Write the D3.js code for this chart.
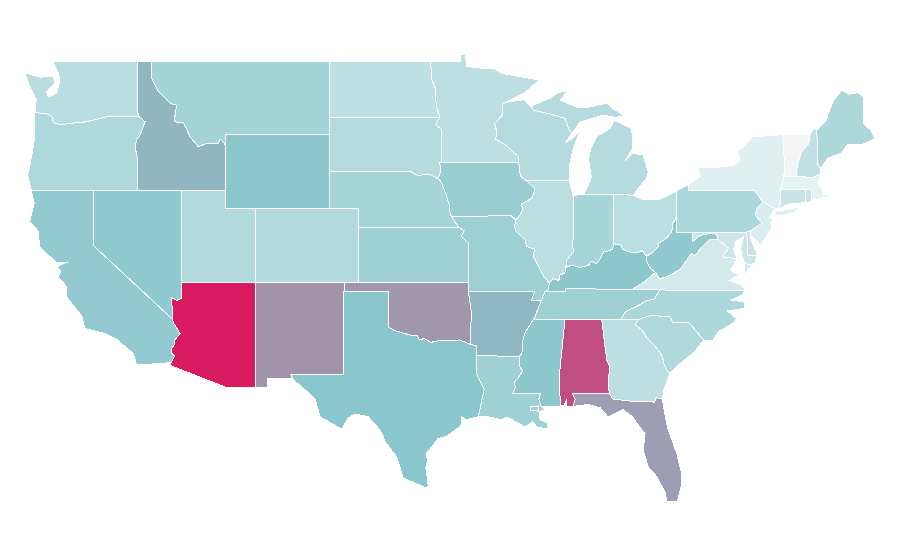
<!DOCTYPE html>
<html>
<head>
<meta charset="utf-8">
<script src="https://cdn.jsdelivr.net/npm/d3@7"></script>
<style>
html, body { margin: 0; padding: 0; background: #fff; }
svg { display: block; }
</style>
</head>
<body>
<svg></svg>
<script>
// SHARED BORDERS (lon, lat)
var redRiver = [[-97.23,49],[-97.13,48.5],[-97.1,48],[-96.85,47.5],[-96.83,47],[-96.8,46.6],[-96.56,45.94]];
var sdMn = [[-96.56,45.94],[-96.85,45.55],[-96.45,45.3],[-96.45,43.5]];
var sdIa = [[-96.45,43.5],[-96.6,43.5],[-96.48,43.2],[-96.55,42.9],[-96.7,42.62],[-96.5,42.5]];
var sdNe = [[-104.05,43],[-98.5,43],[-98,42.77],[-97.6,42.85],[-97.3,42.87],[-96.9,42.72],[-96.5,42.5]];
var neIa = [[-96.5,42.5],[-96.25,42],[-96.1,41.7],[-95.92,41.2],[-95.85,40.7],[-95.77,40.58]];
var neMo = [[-95.77,40.58],[-95.3,40]];
var ksMo = [[-95.3,40],[-94.9,39.8],[-95.1,39.5],[-94.62,39.1],[-94.62,37]];
var mnWi = [[-92.1,46.75],[-92.29,46.66],[-92.29,46.1],[-92.85,45.6],[-92.7,45.2],[-92.78,44.75],[-92,44.4],[-91.6,44.05],[-91.25,43.85],[-91.22,43.5]];
var iaWi = [[-91.22,43.5],[-91.15,43],[-91.05,42.7],[-90.65,42.5]];
var iaIl = [[-90.65,42.5],[-90.15,42.1],[-90.2,41.8],[-90.35,41.55],[-91.05,41.25],[-90.95,40.95],[-91.1,40.7],[-91.42,40.38]];
var moIl = [[-91.42,40.38],[-91.5,40],[-91.4,39.8],[-90.75,39.25],[-90.7,38.95],[-90.15,38.8],[-90.25,38.4],[-89.9,37.9],[-89.5,37.3],[-89.15,36.98]];
var moKy = [[-89.15,36.98],[-89.2,36.6],[-89.42,36.5]];
var moTn = [[-89.42,36.5],[-89.55,36.3],[-89.7,36]];
var arTn = [[-89.7,36],[-89.9,35.6],[-90.1,35.15],[-90.25,34.97]];
var arMs = [[-90.25,34.97],[-90.8,34.25],[-90.95,33.8],[-91,33.15],[-91.17,33]];
var laMs = [[-91.17,33],[-91.13,32.4],[-90.95,32.25],[-91.1,32],[-91.5,31.6],[-91.45,31.3],[-91.6,31],[-89.75,31],[-89.85,30.65],[-89.7,30.3]];
var ohWv = [[-80.52,40.64],[-80.63,40.4],[-80.8,40.2],[-80.86,39.75],[-81.2,39.4],[-81.8,39.1],[-81.75,38.95],[-82.2,38.6],[-82.4,38.5],[-82.59,38.42]];
var ohKy = [[-82.59,38.42],[-82.85,38.72],[-83.2,38.6],[-83.65,38.63],[-84.2,38.8],[-84.3,39.02],[-84.82,39.1]];
var inKy = [[-84.82,39.1],[-84.85,38.8],[-85.2,38.7],[-85.45,38.7],[-85.7,38.3],[-85.95,38],[-86.3,38.15],[-86.5,37.93],[-87.1,37.8],[-87.6,37.95],[-88.03,37.8]];
var ilKy = [[-88.03,37.8],[-88.1,37.5],[-88.45,37.4],[-88.5,37.1],[-88.9,37.2],[-89.15,36.98]];
var wabash = [[-87.53,39.35],[-87.6,39.1],[-87.5,38.7],[-87.95,38.2],[-88.03,37.8]];
var redTxOk = [[-100,34.56],[-99.6,34.38],[-99.2,34.3],[-98.6,34.15],[-98.1,34.13],[-97.95,33.9],[-97.6,33.95],[-97.15,33.75],[-96.6,33.85],[-95.8,33.85],[-95.2,33.88],[-94.48,33.64]];
var sabine = [[-94.04,32],[-93.55,31.2],[-93.75,30.5],[-93.85,30.1],[-93.95,29.72]];
var colorado = [[-114.63,35],[-114.57,34.8],[-114.13,34.24],[-114.47,33.88],[-114.53,33.6],[-114.72,33.4],[-114.7,33.17],[-114.5,33],[-114.74,32.65]];
var idMt = [[-116.05,49],[-116.05,48.06],[-115.6,47.34],[-114.8,46.7],[-114.36,46.6],[-114.54,45.7],[-113.9,45.66],[-113.46,44.9],[-112.9,44.35],[-112.3,44.55],[-111.54,44.54],[-111.43,44.77],[-111.05,44.45]];
var orWa = [[-116.92,46],[-118.98,46],[-119.3,45.93],[-120.5,45.7],[-121.2,45.65],[-122.2,45.55],[-122.7,45.65],[-122.8,46],[-123.2,46.15],[-123.95,46.2]];
var orId = [[-117.03,42],[-117.03,43.8],[-117.18,44.35],[-117.05,44.75],[-116.85,44.95],[-116.5,45.71],[-116.92,46]];
var miWi = [[-90.4,46.55],[-90.24,46.34],[-89.1,46.13],[-88.09,45.89],[-87.8,45.26],[-87.6,45.1]];
var savannah = [[-83.1,35],[-83.35,34.7],[-82.9,34.45],[-82.55,34],[-81.95,33.5],[-81.5,33],[-81.4,32.6],[-81.1,32.1],[-80.97,32.1]];
var gaAl = [[-85.6,34.98],[-85.38,33.5],[-85.26,32.8],[-85.04,32.4],[-85.15,31.8],[-85.1,31]];
var ncTn = [[-81.68,36.59],[-82.05,36.1],[-82.6,36],[-83.1,35.75],[-84,35.4],[-84.32,34.99]];
var ncSc = [[-83.1,35],[-82.3,35.2],[-81.05,35.15],[-80.93,35.1],[-80.8,34.82],[-79.68,34.8],[-78.7,33.87]];
var kyVa = [[-81.97,37.54],[-82.7,37.05],[-83.5,36.63],[-83.67,36.6]];
var kyWv = [[-82.59,38.42],[-82.6,38.2],[-82.3,37.75],[-81.97,37.54]];
var vaWv = [[-77.72,39.32],[-78.35,39.3],[-78.9,38.85],[-79.3,38.45],[-79.55,38.55],[-80.3,37.7],[-81.2,37.3],[-81.68,37.2],[-81.97,37.54]];
var mdWv = [[-79.48,39.72],[-79.48,39.2],[-79.05,39.47],[-78.75,39.6],[-78.4,39.63],[-78.2,39.68],[-77.85,39.6],[-77.72,39.32]];
var potomac = [[-77.72,39.32],[-77,38.85],[-77.35,38.5],[-77.35,38.35],[-76.45,38.3]];
var delaware = [[-74.7,41.36],[-75.13,40.98],[-75.2,40.65],[-74.77,40.2],[-75.45,39.84]];
var nyPa = [[-79.76,42.27],[-79.76,42],[-75.35,42],[-75.05,41.75],[-74.7,41.36]];
var vtNh = [[-71.5,45],[-71.6,44.5],[-72.05,44.1],[-72.35,43.4],[-72.46,42.73]];

// build a closed ring from border pieces
function rev(a) { return a.slice().reverse(); }
function ring() { var r = d3.merge(arguments); return r.concat([r[0]]); }

// STATE SHAPES AND VALUES
var stateNames = ["Washington","Oregon","California","Nevada","Idaho","Montana","Wyoming","Utah","Colorado","Arizona","New Mexico",
  "North Dakota","South Dakota","Nebraska","Kansas","Oklahoma","Texas","Minnesota","Iowa","Missouri","Arkansas","Louisiana",
  "Wisconsin","Illinois","Michigan","Indiana","Ohio","Kentucky","Tennessee","Mississippi","Alabama","Georgia","Florida",
  "South Carolina","North Carolina","Virginia","West Virginia","Maryland","Delaware","Pennsylvania","New Jersey","New York",
  "Connecticut","Rhode Island","Massachusetts","Vermont","New Hampshire","Maine"];

var stateValues = [28,33,46,47,55,38,49,31,31,100,65,
  25,30,37,40,64,50,26,43,41,54,40,
  30,27,30,36,27,49,40,48,85,26,62,
  32,34,16,47,19,21,34,12,10,
  21,21,7,0,24,34];

var stateRings = {
  "Washington": [ring([[-122.76,49],[-117.03,49],[-117.04,46.34],[-116.92,46]], orWa.slice(1),
    [[-123.87,46.9],[-124.3,47.6],[-124.62,48.35],[-123.6,48.13],[-122.7,48.15],[-122.6,47.8],[-123.15,47.34],[-123.05,47.05],[-122.47,47.25],[-122.25,47.97],[-122.37,48.35]])],
  "Oregon": [ring(orWa, [[-123.95,44.9],[-124.3,43.27],[-124.45,42.8],[-124.2,42]], orId)],
  "California": [ring([[-124.2,42],[-120,42],[-120,39]], colorado,
    [[-117.06,32.52],[-117.3,33.15],[-118.4,33.9],[-119.3,34.25],[-120.56,34.5],[-120.8,35.2],[-121.8,36.2],[-121.8,36.77],[-122.37,37.3],[-122.2,37.6],[-122.47,37.85],[-121.75,38.1],[-122.47,38.05],[-123.65,38.93],[-123.7,39.75],[-124.3,40.3],[-124,41.3]])],
  "Nevada": [ring([[-120,42],[-114.04,42],[-114.04,36.14],[-114.3,36.02],[-114.7,36.15],[-114.63,35],[-120,39]])],
  "Idaho": [ring([[-117.03,49]], idMt, [[-111.05,42]], orId, [[-117.04,46.34]])],
  "Montana": [ring(idMt, [[-111.05,45],[-104.05,45],[-104.05,49]])],
  "Wyoming": [ring([[-111.05,45],[-104.05,45],[-104.05,41],[-111.05,41]])],
  "Utah": [ring([[-114.04,42],[-111.05,42],[-111.05,41],[-109.05,41],[-109.05,37],[-114.04,37]])],
  "Colorado": [ring([[-109.05,41],[-102.05,41],[-102.05,37],[-109.05,37]])],
  "Arizona": [ring([[-114.04,37],[-109.05,37],[-109.05,31.33],[-111.07,31.33],[-114.8,32.5]], rev(colorado), [[-114.7,36.15],[-114.3,36.02],[-114.04,36.14]])],
  "New Mexico": [ring([[-109.05,37],[-103,37],[-103.04,36.5],[-103.06,32],[-106.62,32],[-106.53,31.78],[-108.21,31.78],[-108.21,31.33],[-109.05,31.33]])],
  "North Dakota": [ring([[-104.05,49]], redRiver, [[-104.05,45.94]])],
  "South Dakota": [ring([[-104.05,45.94]], sdMn, sdIa, rev(sdNe), [[-104.05,45]])],
  "Nebraska": [ring(sdNe, neIa, neMo, [[-102.05,40],[-102.05,41],[-104.05,41]])],
  "Kansas": [ring([[-102.05,40]], ksMo, [[-102.05,37]])],
  "Oklahoma": [ring([[-103,37],[-94.62,37],[-94.62,36.5],[-94.43,35.4]], rev(redTxOk), [[-100,36.5],[-103.04,36.5]])],
  "Texas": [ring([[-103.04,36.5],[-100,36.5]], redTxOk, [[-94.04,33.55]], sabine,
    [[-94.78,29.55],[-95.07,29.72],[-95.07,29.27],[-96.1,28.65],[-96.66,28.55],[-97.1,28.1],[-97.45,27.75],[-97.4,27.3],[-97.5,26.95],[-97.33,25.93],[-97.5,25.87],[-99.03,26.4],[-99.47,27.55],[-100.2,28.3],[-100.6,29],[-101.4,29.72],[-102.3,29.87],[-102.75,29.65],[-103.2,29.05],[-104.66,29.72],[-105,30.7],[-106.53,31.78],[-106.62,32],[-103.06,32]])],
  "Minnesota": [ring([[-97.23,49],[-95.15,49],[-95.15,49.35],[-94.82,49.32],[-94.74,48.7],[-93.6,48.6],[-92.95,48.62],[-92.36,48.33],[-91.1,48.15],[-89.8,47.97],[-90.8,47.3]], mnWi, [[-96.45,43.5]], rev(sdMn), rev(redRiver))],
  "Iowa": [ring(rev(neIa), rev(sdIa), [[-91.22,43.5]], iaWi, iaIl, [[-91.73,40.61]])],
  "Missouri": [ring([[-95.77,40.58],[-91.73,40.61]], moIl, moKy, moTn, [[-90.37,36],[-90.15,36.5],[-94.62,36.5]], rev(ksMo), rev(neMo))],
  "Arkansas": [ring([[-94.62,36.5],[-90.15,36.5],[-90.37,36]], arTn, arMs, [[-94.04,33.02],[-94.04,33.55],[-94.48,33.64],[-94.43,35.4]])],
  "Louisiana": [ring([[-94.04,33.02]], laMs, [[-89.44,30.1],[-89.77,30.02],[-90.45,30.05],[-90.45,30.25],[-89.9,30.3],[-89.77,29.55],[-89.3,29.38],[-89.2,29.05],[-90,29.16],[-90.25,29.45],[-90.8,29.16],[-91.3,29.4],[-92.03,29.7],[-92.37,29.55],[-93.3,29.72]], rev(sabine))],
  "Wisconsin": [ring(mnWi, iaWi, [[-87.8,42.5],[-87.8,43.3],[-87.5,44.3],[-87.05,45.25],[-87.5,44.85],[-88.08,44.55],[-87.6,45.1]], rev(miWi), [[-90.9,46.9]])],
  "Illinois": [ring([[-90.65,42.5],[-87.8,42.5],[-87.53,41.7]], wabash, ilKy, rev(moIl), rev(iaIl))],
  "Michigan": [
    ring([[-86.82,41.76],[-84.8,41.76],[-83.45,41.73],[-83.15,42.1],[-82.55,42.65],[-82.45,43],[-82.8,43.9],[-83.5,44],[-84,43.6],[-83.5,44.3],[-83.5,44.8],[-83.6,45.35],[-84.75,45.78],[-85.03,45.35],[-85.95,44.9],[-86.3,44.35],[-86.5,43.7],[-86.3,42.7],[-86.6,42.1]]),
    ring(miWi, [[-87.05,45.7],[-86.6,45.8],[-85.5,46.07],[-84.7,45.95],[-84,46],[-84.8,46.4],[-85.26,46.72],[-86.5,46.5],[-87.3,46.5],[-88.4,46.88],[-87.87,47.4],[-88.56,47.28],[-89.1,46.98]]),
    ring([[-89.2,47.9],[-88.5,48.15],[-88.9,47.95]])],
  "Indiana": [ring([[-87.53,41.7],[-87.2,41.75],[-86.82,41.76],[-84.8,41.76]], inKy, rev(wabash))],
  "Ohio": [ring([[-84.8,41.76],[-83.45,41.73],[-82.8,41.47],[-81.7,41.5],[-80.75,41.85],[-80.52,41.98]], ohWv, ohKy)],
  "Kentucky": [ring(rev(moKy), rev(ilKy), rev(inKy), rev(ohKy), kyWv, kyVa, [[-88.07,36.68],[-88.07,36.5]])],
  "Tennessee": [ring([[-89.42,36.5],[-88.07,36.5],[-88.07,36.68],[-83.67,36.6]], ncTn, [[-90.25,34.97]], rev(arTn), rev(moTn))],
  "Mississippi": [ring([[-90.25,34.97],[-88.2,35],[-88.1,34.9],[-88.47,31.9],[-88.4,30.3]], rev(laMs), rev(arMs))],
  "Alabama": [ring([[-88.2,35]], gaAl, [[-87.6,31],[-87.4,30.67],[-87.55,30.28],[-88,30.25],[-87.95,30.65],[-88.15,30.35],[-88.4,30.3],[-88.47,31.9],[-88.1,34.9]])],
  "Georgia": [ring(gaAl.slice(0,1), [[-84.32,34.99]], savannah, [[-81.4,31.17],[-81.5,30.7],[-81.9,30.75],[-82.05,30.5],[-82.2,30.55],[-83.23,30.53],[-84.86,30.68]], rev(gaAl))],
  "Florida": [ring([[-87.6,31],[-85.1,31],[-84.86,30.68],[-83.23,30.53],[-82.2,30.55],[-82.05,30.5],[-81.9,30.75],[-81.5,30.7],[-81.3,29.7],[-81.1,29],[-80.53,27.75],[-80.2,26.66],[-80.2,26],[-80.5,25.1],[-81.2,25.15],[-81.3,25.6],[-81.88,26.47],[-82.45,27],[-82.8,27.9],[-82.67,28.8],[-83.23,29.38],[-83.5,29.7],[-84.15,30.1],[-85.17,29.7],[-85.7,30.2],[-86.5,30.38],[-87.55,30.28],[-87.4,30.67]])],
  "South Carolina": [ring(ncSc, [[-79.4,33.17],[-80.3,32.6]], rev(savannah))],
  "North Carolina": [ring([[-81.68,36.59],[-75.9,36.55],[-76.1,36.3],[-76.9,36.05],[-76,35.95],[-75.9,35.6],[-77.1,35.45],[-76.5,35.05],[-76.7,34.8],[-77.7,34.33],[-78.07,33.87]], rev(ncSc), [[-84.32,34.99]], rev(ncTn))],
  "Virginia": [
    ring(rev(kyVa), rev(vaWv), potomac, [[-76.7,37.9],[-76.9,37.67],[-76.35,37.4],[-76.97,37.1],[-76.35,36.95],[-76,36.76],[-75.9,36.55],[-81.68,36.59]]),
    ring([[-76,37.2],[-75.7,37.75],[-75.25,38.03],[-75.65,37.95],[-75.9,38.03]])],
  "West Virginia": [ring(ohWv, kyWv, rev(vaWv), rev(mdWv), [[-80.52,39.72]])],
  "Maryland": [ring(mdWv, potomac, [[-76.68,38.76],[-76.57,39.2],[-76,39.47],[-76.2,38.85],[-76.1,38.4],[-75.9,38.03],[-75.65,37.95],[-75.25,38.03],[-75.1,38.45],[-75.7,38.46],[-75.79,39.72]])],
  "Delaware": [ring([[-75.79,39.72],[-75.45,39.84],[-75.55,39.5],[-75.4,39.1],[-75.15,38.66],[-75.1,38.45],[-75.7,38.46]])],
  "Pennsylvania": [ring([[-80.52,41.98]], nyPa, delaware, [[-75.79,39.72],[-80.52,39.72]])],
  "New Jersey": [ring(delaware, [[-75.55,39.6],[-75,39.15],[-74.9,38.95],[-74.1,39.9],[-74.15,40.2],[-74,40.45],[-74.25,40.5],[-73.9,41]])],
  "New York": [
    ring(nyPa, [[-73.9,41],[-73.65,41],[-73.5,41.3],[-73.5,42.05],[-73.27,42.75],[-73.25,43.6],[-73.35,45],[-74.44,44.95],[-75.36,44.88],[-76.4,44.1],[-76.25,43.55],[-76.7,43.35],[-77.6,43.25],[-79.07,43.25],[-78.95,42.75]]),
    ring([[-74,40.6],[-73.75,40.87],[-72.6,41],[-72.3,41.1],[-72.5,40.8],[-73.5,40.6]])],
  "Connecticut": [ring([[-73.5,42.05],[-71.8,42.02],[-71.85,41.32],[-72.9,41.25],[-73.65,41],[-73.5,41.3]])],
  "Rhode Island": [ring([[-71.8,42.02],[-71.38,42.02],[-71.4,41.45],[-71.5,41.37],[-71.85,41.32]])],
  "Massachusetts": [ring([[-73.5,42.05],[-73.27,42.75],[-72.46,42.73],[-71.3,42.7],[-70.8,42.87],[-70.95,42.35],[-70.65,42],[-70.6,41.78],[-70.1,41.75],[-70.1,41.65],[-70.6,41.6],[-71.4,41.45],[-71.38,42.02],[-71.8,42.02]])],
  "Vermont": [ring([[-73.35,45]], vtNh, [[-73.27,42.75],[-73.25,43.6]])],
  "New Hampshire": [ring(vtNh.slice(0,1), [[-71.3,45.3],[-71.05,45.25],[-70.98,43.4],[-70.8,43.2],[-70.8,42.87],[-71.3,42.7]], rev(vtNh))],
  "Maine": [ring([[-71.05,45.25],[-70.4,45.8],[-70.27,46.17],[-69.95,46.8],[-69.36,47.43],[-68.9,47.2],[-68.27,47.28],[-67.9,47.07],[-67.9,45.6],[-67.45,45.3],[-67.1,44.8],[-67.9,44.5],[-69,44.45],[-69.4,44],[-70.27,43.75],[-70.8,43.2],[-70.98,43.4]])]
};

// SCRIPT BODY
var width = 900,
    height = 560;

var svg = d3.select("svg")
    .attr("width", width)
    .attr("height", height);

// plain lon/lat grid, x and y stretched separately
var x = d3.scaleLinear().domain([-120, -66.95]).range([93.3, 877.4]),
    y = d3.scaleLinear().domain([49, 25.84]).range([61, 488.3]);

var projection = d3.geoTransform({
  point: function(lon, lat) { this.stream.point(x(lon), y(lat)); }
});
var path = d3.geoPath().projection(projection);

var color = d3.scaleLinear()
    .domain([0, 7, 50, 100])
    .range(["#f3f4f6", "#e6f3f3", "#8ac6cd", "#d81b60"]);

svg.selectAll("path")
    .data(stateNames)
  .enter().append("path")
    .attr("d", function(d) {
      return path({type: "MultiPolygon", coordinates: stateRings[d].map(function(r) { return [r]; })});
    })
    .attr("fill", function(d, i) { return color(stateValues[i]); })
    .attr("stroke", "#fff")
    .attr("stroke-width", 1)
    .attr("shape-rendering", "crispEdges");
</script>
</body>
</html>
